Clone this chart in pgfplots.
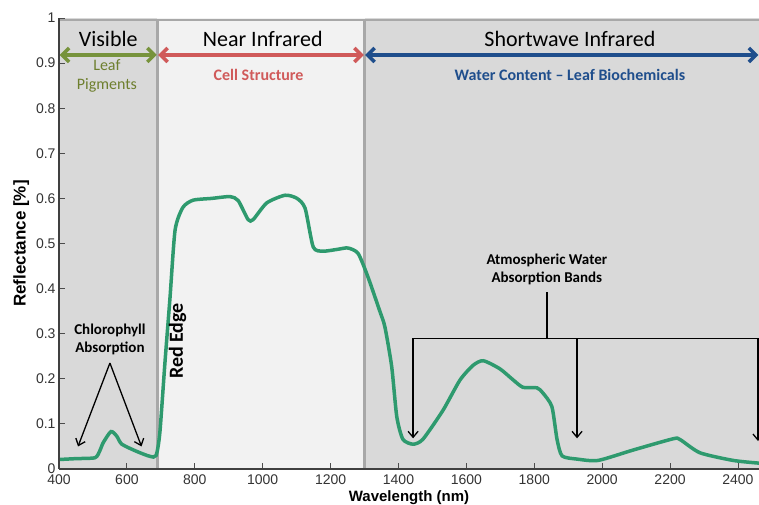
\documentclass[border=0pt]{standalone}
\usepackage{fontspec}
\setmainfont{Liberation Sans}
\newfontfamily\calibri{Carlito}
\usepackage{pgfplots}
\pgfplotsset{compat=1.18}
\usetikzlibrary{arrows.meta,calc}

\definecolor{curve}{HTML}{2E9A6E}
\definecolor{visgreen}{HTML}{77933C}
\definecolor{pigtext}{HTML}{6E7F2E}
\definecolor{nirred}{HTML}{D05A5A}
\definecolor{swirblue}{HTML}{1F4E8C}
\definecolor{shade}{HTML}{D9D9D9}
\definecolor{lightshade}{HTML}{F2F2F2}
\definecolor{edge}{HTML}{A8A8A8}
\definecolor{tickgray}{HTML}{333333}

\begin{document}
\begin{tikzpicture}
\begin{axis}[
    scale only axis,
    width=700pt, height=451pt,
    xmin=400, xmax=2462,
    ymin=0, ymax=1,
    axis on top,
    axis x line*=bottom,
    axis y line*=left,
    axis line style={draw=black!75, line width=1.2pt},
    tick align=inside,
    major tick length=6pt,
    tick style={black!70, line width=0.8pt},
    xtick={400,600,...,2400},
    ytick={0,0.1,...,1.0},
    yticklabels={0,0.1,0.2,0.3,0.4,0.5,0.6,0.7,0.8,0.9,1},
    /pgf/number format/assume math mode=true,
    /pgf/number format/1000 sep={},
    ticklabel style={font=\fontsize{14}{16}\selectfont, text=tickgray},
    xticklabel style={yshift=-2pt},
    xlabel={\bfseries Wavelength (nm)},
    ylabel={\bfseries Reflectance [\%]},
    xlabel style={font=\fontsize{15}{17}\selectfont, yshift=1pt},
    ylabel style={font=\fontsize{17}{19}\selectfont, yshift=0pt},
]

% spectral regions
\addplot[draw=none, fill=shade] coordinates {(400,0) (400,1) (690,1) (690,0)} -- cycle;
\addplot[draw=none, fill=lightshade] coordinates {(690,0) (690,1) (1300,1) (1300,0)} -- cycle;
\addplot[draw=none, fill=shade] coordinates {(1300,0) (1300,1) (2462,1) (2462,0)} -- cycle;
\addplot[edge, line width=3pt] coordinates {(690,0) (690,0.996)};
\addplot[edge, line width=3pt] coordinates {(1300,0) (1300,0.996)};
\addplot[edge, line width=2pt] coordinates {(400,0.996) (2462,0.996)};

% region arrows and titles
\draw[visgreen, line width=3.5pt, {Straight Barb[length=7pt,width=14pt]}-{Straight Barb[length=7pt,width=14pt]}]
    (axis cs:402,0.918) -- (axis cs:688,0.918);
\draw[nirred, line width=3.5pt, {Straight Barb[length=7pt,width=14pt]}-{Straight Barb[length=7pt,width=14pt]}]
    (axis cs:692,0.918) -- (axis cs:1298,0.918);
\draw[swirblue, line width=3.5pt, {Straight Barb[length=7pt,width=14pt]}-{Straight Barb[length=7pt,width=14pt]}]
    (axis cs:1302,0.918) -- (axis cs:2460,0.918);

\node[font=\calibri\fontsize{22}{24}\selectfont] at (axis cs:545,0.953) {Visible};
\node[font=\calibri\fontsize{22}{24}\selectfont] at (axis cs:1000,0.953) {Near Infrared};
\node[font=\calibri\fontsize{22}{24}\selectfont] at (axis cs:1905,0.953) {Shortwave Infrared};

\node[font=\calibri\fontsize{16}{19}\selectfont, text=pigtext, align=center] at (axis cs:541,0.872) {Leaf\\Pigments};
\node[font=\calibri\bfseries\fontsize{16}{18}\selectfont, text=nirred] at (axis cs:988,0.874) {Cell Structure};
\node[font=\calibri\bfseries\fontsize{16}{18}\selectfont, text=swirblue] at (axis cs:1905,0.874) {Water Content – Leaf Biochemicals};

% reflectance curve
\addplot[curve, line width=3.5pt, smooth, tension=0.4] coordinates {
 (400,0.021) (450,0.023) (506,0.025) (520,0.040) (530,0.058) (553,0.083)
 (570,0.073) (585,0.055) (629,0.039) (668,0.028) (686,0.030) (697,0.080)
 (712,0.235) (727,0.380) (742,0.530) (765,0.580) (795,0.596) (850,0.600)
 (904,0.604) (928,0.595) (957,0.553) (972,0.553) (1012,0.590) (1066,0.607)
 (1101,0.600) (1125,0.578) (1149,0.492) (1178,0.483) (1220,0.487) (1251,0.490)
 (1281,0.478) (1310,0.426) (1345,0.350) (1360,0.315) (1380,0.227) (1395,0.116)
 (1413,0.066) (1443,0.055) (1472,0.066) (1531,0.130) (1581,0.197) (1620,0.230)
 (1650,0.240) (1699,0.222) (1737,0.198) (1767,0.181) (1808,0.180) (1826,0.168)
 (1852,0.138) (1867,0.066) (1882,0.029) (1926,0.022) (1988,0.019) (2091,0.042)
 (2209,0.067) (2230,0.065) (2288,0.036) (2386,0.019) (2462,0.013)
};

% annotations
\node[font=\calibri\bfseries\fontsize{15}{18}\selectfont, align=center] at (axis cs:550,0.288) {Chlorophyll\\Absorption};
\draw[black, line width=1.3pt, -{Straight Barb[length=6pt,width=10pt]}] (axis cs:550,0.235) -- (axis cs:456,0.050);
\draw[black, line width=1.3pt, -{Straight Barb[length=6pt,width=10pt]}] (axis cs:550,0.235) -- (axis cs:643,0.050);

\node[font=\calibri\bfseries\fontsize{20}{22}\selectfont, rotate=90] at (axis cs:749,0.284) {Red Edge};

\node[font=\calibri\bfseries\fontsize{15}{18}\selectfont, align=center] at (axis cs:1837,0.443) {Atmospheric Water\\Absorption Bands};
\draw[black, line width=2pt] (axis cs:1837,0.392) -- (axis cs:1837,0.290);
\draw[black, line width=1.3pt] (axis cs:1443,0.290) -- (axis cs:2462,0.290);
\draw[black, line width=1.3pt, -{Straight Barb[length=6pt,width=10pt]}] (axis cs:1443,0.290) -- (axis cs:1443,0.068);
\draw[black, line width=1.3pt, -{Straight Barb[length=6pt,width=10pt]}] (axis cs:1926,0.290) -- (axis cs:1926,0.068);
\draw[black, line width=1.3pt, -{Straight Barb[length=6pt,width=10pt]}] (axis cs:2459,0.290) -- (axis cs:2459,0.062);
\end{axis}
\pgfresetboundingbox
\path[use as bounding box] ($(current axis.south west)+(-59pt,-36pt)$) rectangle ($(current axis.north east)+(0pt,18pt)$);
\end{tikzpicture}
\end{document}
